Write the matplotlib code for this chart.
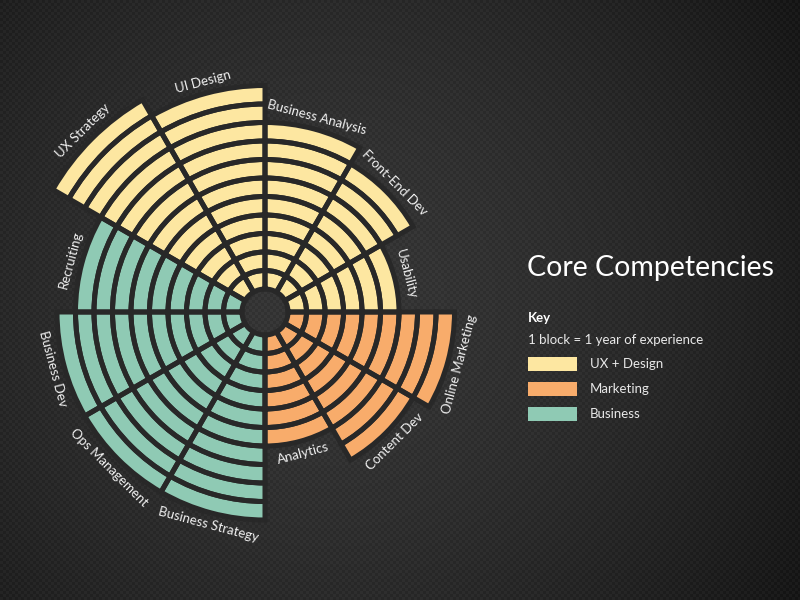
import numpy as np
import matplotlib
matplotlib.use("Agg")
from matplotlib import pyplot as plt
from matplotlib.patches import Rectangle

plt.rcParams['font.family'] = ['Lato', 'DejaVu Sans']

# data: years of experience per competency, clockwise from 12 o'clock
skills = ['Business Analysis', 'Front-End Dev', 'Usability', 'Online Marketing',
          'Content Dev', 'Analytics', 'Business Strategy', 'Ops Management',
          'Business Dev', 'Recruiting', 'UX Strategy', 'UI Design']
years = [9, 8, 6, 9, 8, 6, 10, 10, 10, 9, 12, 11]
groups = ['UX + Design', 'UX + Design', 'UX + Design', 'Marketing',
          'Marketing', 'Marketing', 'Business', 'Business',
          'Business', 'Business', 'UX + Design', 'UX + Design']
group_names = ['UX + Design', 'Marketing', 'Business']
group_colors = {'UX + Design': '#fde7a1', 'Marketing': '#f8ac6b', 'Business': '#8fcab4'}

W, H = 800, 600
cx, cy = 265, 312          # centre of the wheel in pixels
hole = 23                  # radius of the empty centre
step = 18.5                # one block = one year
gap_color = '#282828'

fig = plt.figure(figsize=(8, 6), dpi=100)

# carbon-fibre style background
yy, xx = np.mgrid[0:H, 0:W]
dist = np.hypot(xx - 330, yy - 300) / 520
base = 54 - 28 * dist ** 1.6
weave = ((xx // 3 + yy // 3) % 2) * 7 - 3.5
shade = np.clip(base + weave, 0, 255) / 255
bg = fig.add_axes([0, 0, 1, 1])
bg.imshow(np.dstack([shade, shade, shade]), extent=[0, W, H, 0], aspect='auto',
          interpolation='nearest')
bg.set_xlim(0, W)
bg.set_ylim(H, 0)
bg.axis('off')

# polar wheel, 1 data unit = 1 pixel
S = 280
ax = fig.add_axes([(cx - S) / W, (H - cy - S) / H, 2 * S / W, 2 * S / H],
                  projection='polar')
ax.set_theta_zero_location('N')
ax.set_theta_direction(-1)
ax.set_ylim(0, S)
ax.set_axis_off()

thetas, bottoms, colors = [], [], []
for i, (n, g) in enumerate(zip(years, groups)):
    for k in range(n):
        thetas.append(np.deg2rad(i * 30 + 15))
        bottoms.append(hole + k * step)
        colors.append(group_colors[g])

width = np.deg2rad(30)
ax.bar(thetas, step, width=width, bottom=bottoms, color=colors,
       edgecolor='none', zorder=2)
ax.bar(thetas, step, width=width, bottom=bottoms, facecolor='none',
       edgecolor=gap_color, linewidth=3.6, zorder=3)

# labels along the rim
for i, (name, n) in enumerate(zip(skills, years)):
    deg = i * 30 + 15
    r = hole + n * step + 6
    if 90 < deg < 270:
        rot, va = 180 - deg, 'top'
    else:
        rot, va = -deg, 'bottom'
    ax.text(np.deg2rad(deg), r, name, rotation=rot, rotation_mode='anchor',
            ha='center', va=va, color='#f0f0f0', fontsize=9.5, clip_on=False,
            zorder=4)

# title and key
fig.text(527 / W, 1 - 268 / H, 'Core Competencies', color='white', fontsize=20.5,
         va='center', ha='left')
fig.text(528 / W, 1 - 318 / H, 'Key', color='white', fontsize=9.5,
         fontweight='bold', va='center', ha='left')
fig.text(528 / W, 1 - 340 / H, '1 block = 1 year of experience', color='#e8e8e8',
         fontsize=9.5, va='center', ha='left')
for j, g in enumerate(group_names):
    ymid = 364 + j * 25
    fig.patches.append(Rectangle((528 / W, 1 - (ymid + 7) / H), 49 / W, 14 / H,
                                 transform=fig.transFigure,
                                 facecolor=group_colors[g], edgecolor='none'))
    fig.text(590 / W, 1 - ymid / H, g, color='#e8e8e8', fontsize=9.5,
             va='center', ha='left')

plt.savefig('out.png', dpi=100)
